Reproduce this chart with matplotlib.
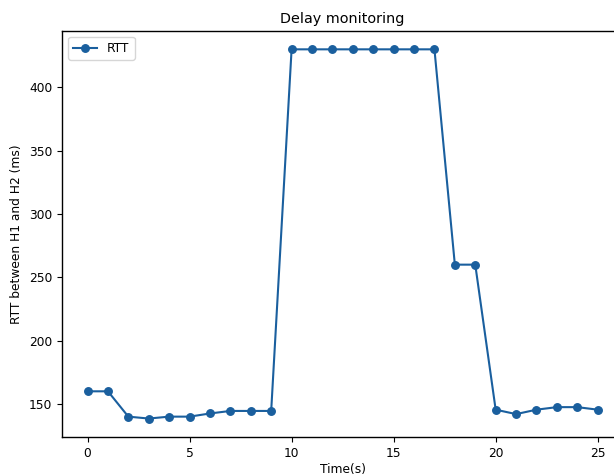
import matplotlib
matplotlib.use('Agg')
import matplotlib.pyplot as plt

# RTT samples, one per second
time_s = list(range(26))
rtt_ms = [160, 160, 140, 138.5, 140, 140, 142.5, 144.5, 144.5, 144.5,
          430, 430, 430, 430, 430, 430, 430, 430,
          260, 260, 145.5, 142, 145.5, 147.5, 147.5, 145.5]

plt.rc('xtick', labelsize=8.8)
plt.rc('ytick', labelsize=8.8)
plt.rc('axes', labelsize=8.8, titlesize=10.4, linewidth=1.0)
plt.rc('legend', fontsize=8.8)

fig = plt.figure(figsize=(6.14, 4.75), dpi=100)
# axes runs past the right edge, as in the cropped original
ax = fig.add_axes([0.101, 0.08, 0.914, 0.855])

ax.plot(time_s, rtt_ms, marker='o', color='#1a5f9e', lw=1.5, ms=5.4, label='RTT')

ax.set_title('Delay monitoring')
ax.set_xlabel('Time(s)', labelpad=2)
ax.set_ylabel('RTT between H1 and H2 (ms)')
ax.legend(loc='upper left')

fig.savefig('out.png', dpi=100)
